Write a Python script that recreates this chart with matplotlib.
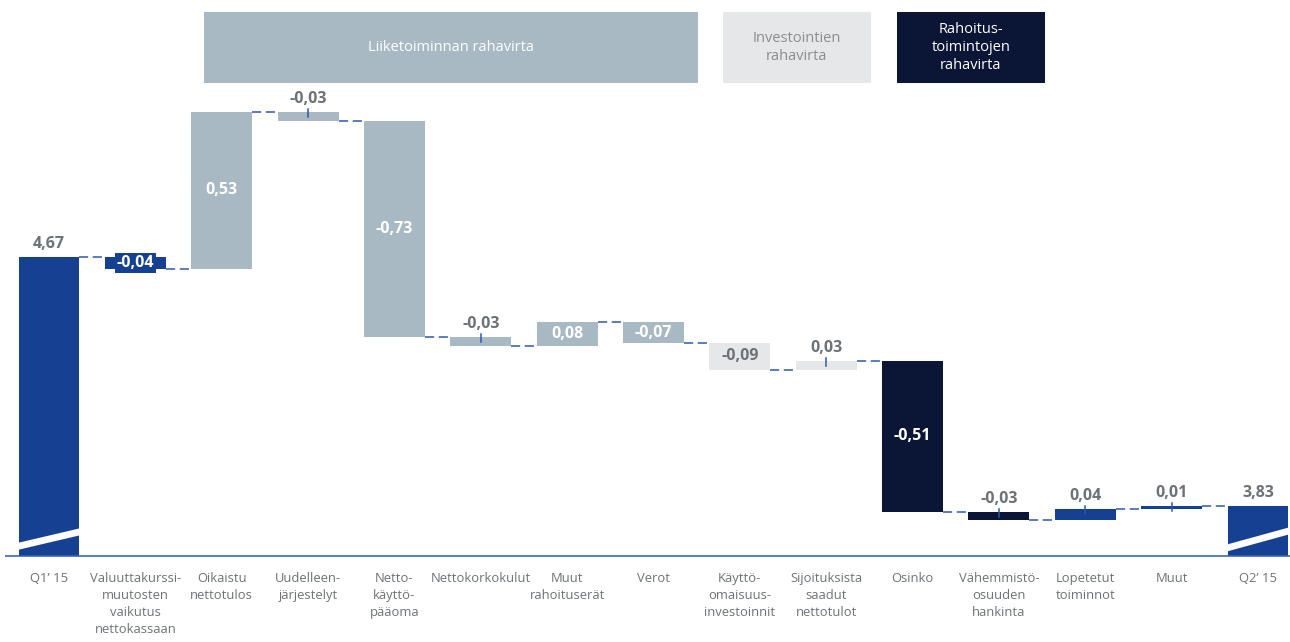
import matplotlib
matplotlib.use("Agg")
import matplotlib.pyplot as plt
from matplotlib.patches import Polygon, Rectangle
import numpy as np

plt.rcParams['font.family'] = ['Open Sans', 'DejaVu Sans']

categories = ["Q1’ 15", "Valuuttakurssi-\nmuutosten\nvaikutus\nnettokassaan",
              "Oikaistu\nnettotulos", "Uudelleen-\njärjestelyt", "Netto-\nkäyttö-\npääoma",
              "Nettokorkokulut", "Muut\nrahoituserät", "Verot",
              "Käyttö-\nomaisuus-\ninvestoinnit", "Sijoituksista\nsaadut\nnettotulot",
              "Osinko", "Vähemmistö-\nosuuden\nhankinta", "Lopetetut\ntoiminnot",
              "Muut", "Q2’ 15"]
start_value = 4.67
end_value = 3.83
changes = [-0.04, 0.53, -0.03, -0.73, -0.03, 0.08, -0.07, -0.09, 0.03,
           -0.51, -0.03, 0.04, 0.01]
# colour group per change bar
groups = ["total", "op", "op", "op", "op", "op", "op", "inv", "inv",
          "fin", "fin", "total", "total"]
inside_label = [True, True, False, True, False, True, True, True, False,
                True, False, False, False]

header_texts = ["Liiketoiminnan rahavirta", "Investointien\nrahavirta",
                "Rahoitus-\ntoimintojen\nrahavirta"]

colors = {"total": "#164091", "op": "#a9b9c3", "inv": "#e6e7e9", "fin": "#0b1535"}
text_gray = "#6d7278"
dash_col = "#2f57a8"

base = 3.66
width = 0.706
py = 1 / 296.0   # one pixel in y data units
px = 1 / 86.36   # one pixel in x data units
val_fs = 11.5

fig = plt.figure(figsize=(12.9, 6.42), dpi=100)
ax = fig.add_axes([0, (642 - 556) / 642, 1, 556 / 642])
ax.set_xlim(-49 * px, 14 + 32 * px)
ax.set_ylim(base, base + 556 * py)
ax.axis("off")

# baseline
ax.plot([-44 * px, 14 + 32 * px], [base, base], color="#3c64b4", lw=1.2,
        solid_capstyle="butt", clip_on=False, zorder=5)

def fmt(v):
    return ("%.2f" % v).replace(".", ",")

# start / end bars
for i, v in [(0, start_value), (14, end_value)]:
    ax.bar(i, v - base, width, bottom=base, color=colors["total"], zorder=2)
    ax.text(i, v + 5 * py, fmt(v), ha="center", va="bottom", fontsize=val_fs,
            fontweight="bold", color=text_gray)

# break marks
def break_mark(x0, x1):
    yl0, yl1 = base + 3 * py, base + 22 * py
    t = 7 * py
    ax.add_patch(Polygon([(x0, yl0), (x1, yl1), (x1, yl1 + t), (x0, yl0 + t)],
                         closed=True, facecolor="white", edgecolor="none", zorder=3))

break_mark(-width / 2 - 14 * px, width / 2 + 6 * px)
break_mark(14 - width / 2 - 6 * px, 14 + width / 2 + 2 * px)

level = start_value
for k, d in enumerate(changes):
    i = k + 1
    new = level + d
    lo, hi = min(level, new), max(level, new)
    ax.bar(i, hi - lo, width, bottom=lo, color=colors[groups[k]], zorder=2)
    # connector from previous bar
    ax.plot([i - 1 + width / 2, i - width / 2], [level, level], color=dash_col,
            lw=1.1, ls=(0, (6, 3)), zorder=1)
    if inside_label[k]:
        tc = text_gray if groups[k] == "inv" else "white"
        ax.text(i, (lo + hi) / 2, fmt(d), ha="center", va="center", fontsize=val_fs,
                fontweight="bold", color=tc, zorder=4,
                bbox=dict(facecolor=colors[groups[k]], edgecolor="none", pad=1.5))
    else:
        ax.plot([i, i], [hi - 5 * py, hi + 3 * py], color=dash_col, lw=1.1, zorder=4)
        ax.text(i, hi + 5 * py, fmt(d), ha="center", va="bottom", fontsize=val_fs,
                fontweight="bold", color=text_gray, zorder=4)
    level = new
ax.plot([13 + width / 2, 14 - width / 2], [level, level], color=dash_col,
        lw=1.1, ls=(0, (6, 3)), zorder=1)

# category labels
for i, c in enumerate(categories):
    ax.text(i, base - 16 * py, c, ha="center", va="top", fontsize=9.4,
            color=text_gray, linespacing=1.4, clip_on=False)

# header boxes
top = base + 556 * py
boxes = [((204 - 49) * px, (698 - 49) * px, colors["op"], "white"),
         ((723 - 49) * px, (871 - 49) * px, colors["inv"], "#8a8d90"),
         ((897 - 49) * px, (1045 - 49) * px, colors["fin"], "white")]
for (x0, x1, fc, tc), txt in zip(boxes, header_texts):
    y0, y1 = top - 83 * py, top - 12 * py
    ax.add_patch(Rectangle((x0, y0), x1 - x0, y1 - y0, facecolor=fc,
                           edgecolor="none", zorder=2))
    ax.text((x0 + x1) / 2, (y0 + y1) / 2, txt, ha="center", va="center",
            fontsize=10.5, color=tc, linespacing=1.25, zorder=3)

fig.savefig("out.png", dpi=100)
